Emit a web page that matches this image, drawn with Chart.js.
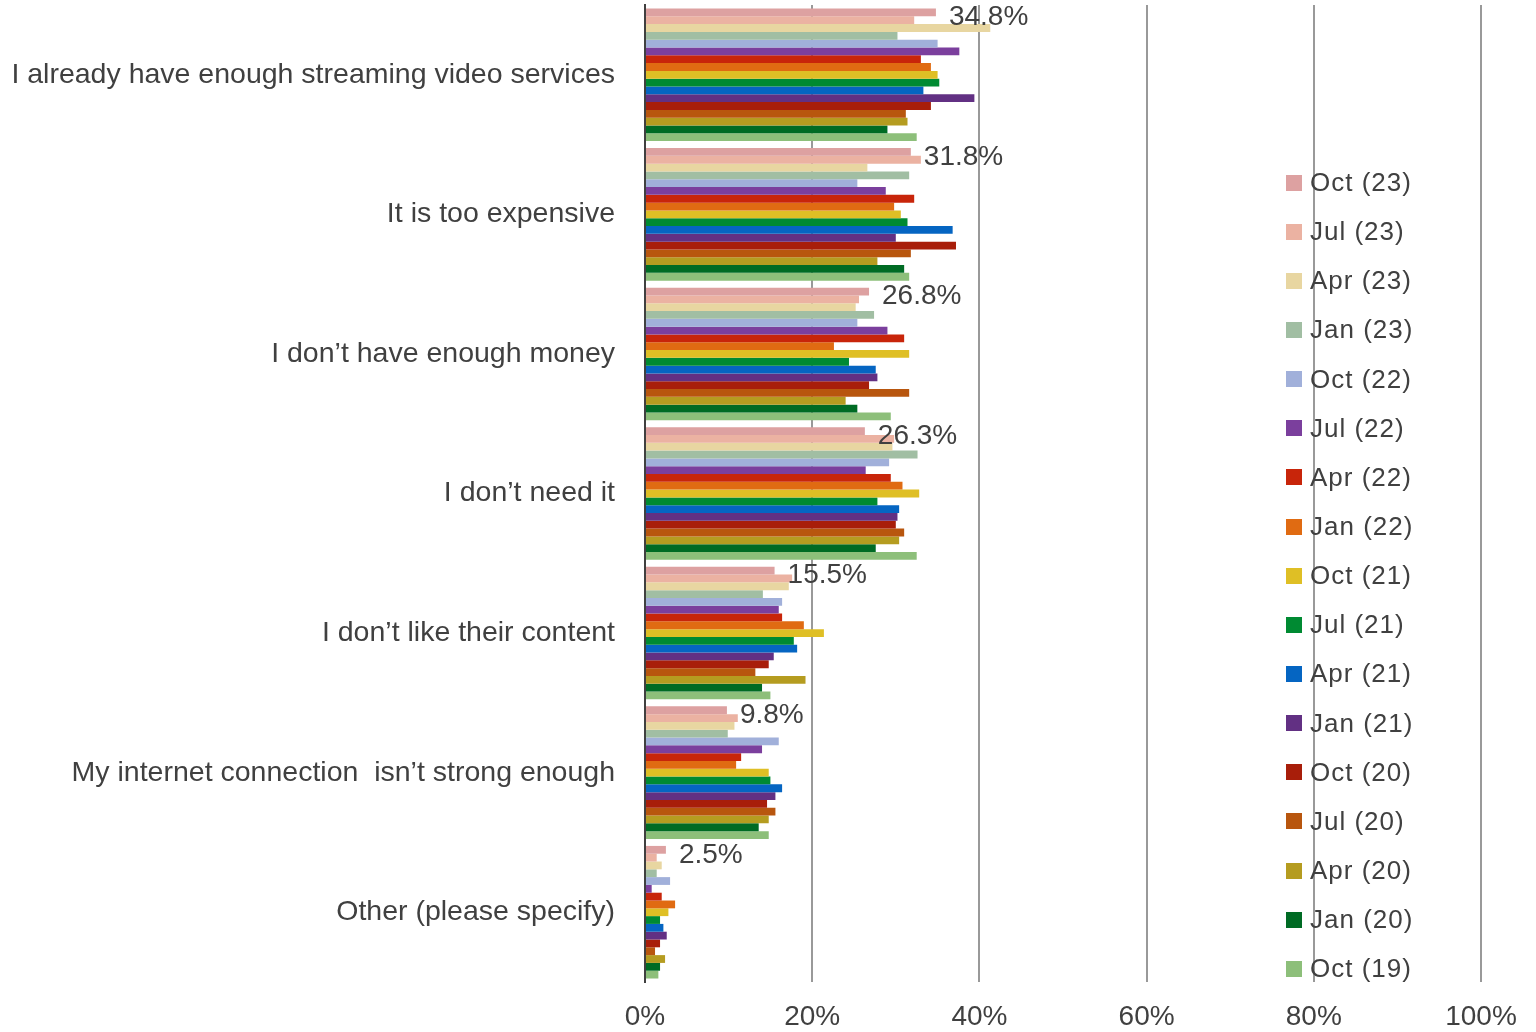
<!DOCTYPE html>
<html>
<head>
<meta charset="utf-8">
<script src="https://cdn.jsdelivr.net/npm/chart.js@4.4.0/dist/chart.umd.min.js"></script>
<style>
  html, body { margin: 0; padding: 0; background: #ffffff; }
  #wrap { position: relative; width: 1536px; height: 1032px; }
  #legend { position: absolute; left: 1286px; top: 158px; font-family: "Liberation Sans", Arial, sans-serif; font-size: 26px; letter-spacing: 1px; color: #404040; }
  .li { height: 49.15px; display: flex; align-items: center; }
  .sw { width: 16px; height: 16px; margin-right: 8px; flex: none; }
</style>
</head>
<body>
<div id="wrap">
  <canvas id="c" width="1536" height="1032"></canvas>
  <div id="legend"></div>
</div>
<script>
const categories = [
  "I already have enough streaming video services",
  "It is too expensive",
  "I don\u2019t have enough money",
  "I don\u2019t need it",
  "I don\u2019t like their content",
  "My internet connection  isn\u2019t strong enough",
  "Other (please specify)"
];
const seriesLabels = ["Oct (23)","Jul (23)","Apr (23)","Jan (23)","Oct (22)","Jul (22)","Apr (22)","Jan (22)","Oct (21)","Jul (21)","Apr (21)","Jan (21)","Oct (20)","Jul (20)","Apr (20)","Jan (20)","Oct (19)"];
const seriesColors = ["#DDA1A1","#EBB2A2","#E8D6A1","#A1BEA3","#A1B0DA","#7B3F9D","#C8250A","#E06B12","#DFBF25","#008A32","#0565C2","#623083","#A81E0A","#B8560E","#B59C20","#006B24","#8DBF7A"];
const tickLabels = ["0%","20%","40%","60%","80%","100%"];

const oct23 = [34.8, 31.8, 26.8, 26.3, 15.5, 9.8, 2.5];
const jul23 = [32.2, 33.0, 25.6, 29.8, 17.6, 11.1, 1.4];
const apr23 = [41.3, 26.6, 25.2, 29.6, 17.2, 10.7, 2.0];
const jan23 = [30.2, 31.6, 27.4, 32.6, 14.1, 9.9, 1.4];
const oct22 = [35.0, 25.4, 25.4, 29.2, 16.4, 16.0, 3.0];
const jul22 = [37.6, 28.8, 29.0, 26.4, 16.0, 14.0, 0.8];
const apr22 = [33.0, 32.2, 31.0, 29.4, 16.4, 11.5, 2.0];
const jan22 = [34.2, 29.8, 22.6, 30.8, 19.0, 10.9, 3.6];
const oct21 = [35.0, 30.6, 31.6, 32.8, 21.4, 14.8, 2.8];
const jul21 = [35.2, 31.4, 24.4, 27.8, 17.8, 15.0, 1.8];
const apr21 = [33.3, 36.8, 27.6, 30.4, 18.2, 16.4, 2.2];
const jan21 = [39.4, 30.0, 27.8, 30.2, 15.4, 15.6, 2.6];
const oct20 = [34.2, 37.2, 26.8, 30.0, 14.8, 14.6, 1.8];
const jul20 = [31.2, 31.8, 31.6, 31.0, 13.2, 15.6, 1.2];
const apr20 = [31.4, 27.8, 24.0, 30.4, 19.2, 14.8, 2.4];
const jan20 = [29.0, 31.0, 25.4, 27.6, 14.0, 13.6, 1.8];
const oct19 = [32.5, 31.6, 29.4, 32.5, 15.0, 14.8, 1.6];

const seriesValues = [oct23, jul23, apr23, jan23, oct22, jul22, apr22, jan22, oct21, jul21, apr21, jan21, oct20, jul20, apr20, jan20, oct19];

const FONT = '"Liberation Sans", Arial, sans-serif';
const TEXT = '#404040';

const datasets = seriesLabels.map((lab, i) => ({
  label: lab,
  data: seriesValues[i],
  backgroundColor: seriesColors[i],
  borderWidth: 0,
  barPercentage: 1.0,
  categoryPercentage: 0.95
}));

const labelPlugin = {
  id: 'firstLabels',
  afterDatasetsDraw(chart) {
    const ctx = chart.ctx;
    const meta = chart.getDatasetMeta(0);
    ctx.save();
    ctx.font = '28px ' + FONT;
    ctx.fillStyle = TEXT;
    ctx.textAlign = 'left';
    ctx.textBaseline = 'middle';
    meta.data.forEach((bar, j) => {
      const v = seriesValues[0][j];
      ctx.fillText(v.toFixed(1) + '%', bar.x + 13, bar.y + 5);
    });
    ctx.restore();
  }
};

new Chart(document.getElementById('c'), {
  type: 'bar',
  data: { labels: categories, datasets },
  options: {
    indexAxis: 'y',
    responsive: false,
    animation: false,
    devicePixelRatio: 1,
    layout: { padding: { top: 5, right: 55, left: 0, bottom: 0 } },
    plugins: { legend: { display: false }, tooltip: { enabled: false } },
    scales: {
      x: {
        min: 0, max: 100,
        ticks: {
          stepSize: 20,
          padding: 18,
          color: TEXT,
          font: { family: FONT, size: 28 },
          callback: (v, i) => tickLabels[i]
        },
        grid: { color: '#999999', lineWidth: 2, drawTicks: false },
        border: { display: false },
        afterFit: (s) => { s.height = 50; }
      },
      y: {
        ticks: {
          padding: 30,
          color: TEXT,
          font: { family: FONT, size: 28.5 }
        },
        grid: { display: false, drawTicks: false },
        border: { color: '#404040', width: 2 },
        afterFit: (s) => { s.width = 645; s.paddingTop = 0; s.paddingBottom = 0; }
      }
    }
  },
  plugins: [labelPlugin]
});

const leg = document.getElementById('legend');
seriesLabels.forEach((lab, i) => {
  const d = document.createElement('div');
  d.className = 'li';
  const sw = document.createElement('span');
  sw.className = 'sw';
  sw.style.background = seriesColors[i];
  const t = document.createElement('span');
  t.textContent = lab;
  d.appendChild(sw); d.appendChild(t);
  leg.appendChild(d);
});
</script>
</body>
</html>
